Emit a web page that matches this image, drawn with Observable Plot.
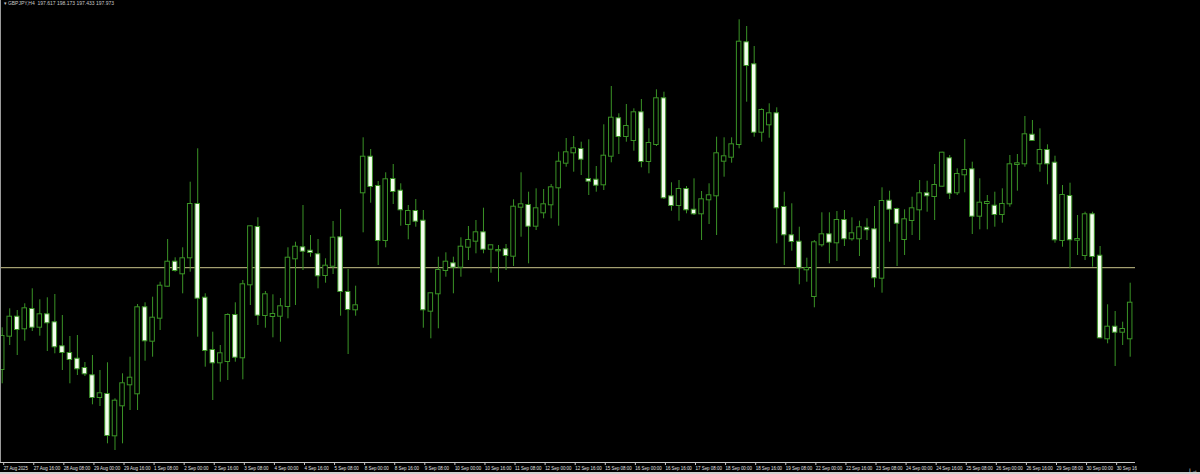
<!DOCTYPE html>
<html>
<head>
<meta charset="utf-8">
<script src="https://cdn.jsdelivr.net/npm/d3@7"></script>
<script src="https://cdn.jsdelivr.net/npm/@observablehq/plot@0.6"></script>
<style>
  html, body { margin: 0; padding: 0; background: #000; }
  #chart svg { display: block; }
</style>
</head>
<body>
<div id="chart"></div>
<script>
// H4 candles, 27 Aug 2025 00:00 .. (index 0..150)
const open = [
197.310,197.643,197.833,197.717,197.910,197.733,197.857,197.777,197.537,197.470,
197.413,197.320,197.247,197.030,197.060,196.647,196.947,197.157,197.067,197.927,
197.593,197.823,198.143,198.383,198.267,198.427,198.960,198.023,197.500,197.377,
197.390,197.850,197.427,198.157,198.730,197.850,197.840,197.843,197.940,198.417,
198.527,198.493,198.457,198.250,198.343,198.627,198.080,197.907,199.077,199.433,
199.140,198.600,199.210,199.093,198.760,198.890,198.793,197.893,198.067,198.300,
198.367,198.333,198.533,198.593,198.677,198.513,198.497,198.507,198.443,198.933,
198.950,198.743,198.877,198.957,199.127,199.373,199.477,199.510,199.210,199.203,
199.157,199.443,199.817,199.640,199.600,199.877,199.390,199.560,200.017,199.037,
198.950,199.110,198.903,198.867,199.007,199.047,199.393,199.433,199.560,200.577,
200.357,199.683,199.757,199.867,198.930,198.647,198.583,198.307,198.040,198.557,
198.657,198.577,198.800,198.617,198.617,198.723,198.707,198.223,198.993,198.910,
198.610,198.800,198.907,199.067,199.040,199.143,199.417,199.077,199.257,199.307,
198.843,198.970,198.943,198.860,198.967,199.360,199.367,199.653,199.367,199.500,
199.373,198.600,199.040,198.603,198.450,198.857,198.443,197.617,197.733,197.683,
197.617];
const high = [
197.727,197.917,197.900,197.967,198.117,198.007,198.027,198.060,197.850,197.640,
197.650,197.380,197.450,197.300,197.377,197.017,197.267,197.433,197.960,197.977,
198.033,198.183,198.610,198.427,198.527,199.183,199.517,198.067,197.683,197.550,
197.867,197.977,198.200,198.743,198.827,198.090,198.057,198.020,198.527,198.583,
198.950,198.650,198.610,198.417,198.790,198.910,198.310,198.143,199.627,199.510,
199.190,199.277,199.360,199.167,198.950,199.010,198.900,198.077,198.433,198.477,
198.433,198.627,198.740,198.800,198.923,198.553,198.550,198.560,199.007,199.277,
199.083,199.117,199.110,199.160,199.483,199.620,199.640,199.583,199.607,199.340,
199.757,200.140,199.867,199.960,199.917,200.010,199.717,200.107,200.083,199.177,
199.200,199.140,199.217,199.090,199.167,199.633,199.627,199.627,200.807,200.740,
200.540,199.917,199.967,199.927,199.083,198.967,198.733,198.423,198.600,198.877,
198.877,198.890,198.900,198.827,198.793,198.817,198.940,199.127,199.093,198.923,
198.907,199.033,199.200,199.193,199.360,199.483,199.450,199.317,199.610,199.383,
199.217,199.050,199.083,199.117,199.450,199.460,199.840,199.800,199.717,199.557,
199.443,199.150,199.173,198.850,198.883,198.883,198.540,197.957,197.890,197.783,
198.173];
const low = [
197.167,197.550,197.450,197.593,197.690,197.643,197.490,197.467,197.300,197.167,
197.250,197.240,196.957,196.940,196.567,196.500,196.567,196.900,196.900,197.393,
197.433,197.700,198.133,198.283,198.067,198.283,197.633,197.333,197.000,197.183,
197.200,197.383,197.207,197.950,197.750,197.723,197.627,197.583,197.817,197.950,
198.300,198.433,198.117,198.173,198.260,197.843,197.460,197.843,198.677,198.973,
198.350,198.527,198.960,198.743,198.607,198.733,197.723,197.617,197.717,198.233,
198.067,198.233,198.400,198.467,198.467,198.273,198.183,198.300,198.340,198.633,
198.367,198.700,198.817,198.817,198.743,199.333,199.283,199.250,199.050,199.083,
199.100,199.377,199.460,199.583,199.493,199.327,199.267,199.540,199.010,198.893,
198.793,198.867,198.850,198.600,198.760,198.650,199.233,199.373,199.517,199.983,
199.633,199.583,199.623,198.567,198.350,198.493,198.157,198.183,197.927,198.533,
198.367,198.390,198.540,198.593,198.440,198.600,198.127,198.073,198.583,198.340,
198.450,198.650,198.600,198.883,198.800,199.133,199.010,199.050,199.077,198.660,
198.707,198.707,198.733,198.773,198.933,199.093,199.333,199.593,199.283,199.157,
198.573,198.533,198.317,198.450,198.400,198.333,197.617,197.567,197.340,197.550,
197.433];
const close = [
197.640,197.833,197.710,197.917,197.733,197.857,197.777,197.537,197.480,197.410,
197.317,197.267,197.030,197.067,196.650,196.993,197.167,197.223,197.927,197.597,
197.823,198.143,198.383,198.300,198.417,198.960,198.023,197.500,197.377,197.467,
197.850,197.433,198.157,198.737,197.853,198.057,197.860,197.937,198.423,198.533,
198.493,198.480,198.247,198.343,198.623,198.090,197.910,197.947,199.433,199.140,
198.600,199.207,199.090,198.907,198.890,198.793,197.907,198.067,198.300,198.383,
198.333,198.533,198.600,198.677,198.513,198.547,198.500,198.450,198.933,198.957,
198.743,198.917,198.957,199.127,199.383,199.477,199.517,199.413,199.193,199.153,
199.443,199.823,199.640,199.740,199.877,199.390,199.570,200.017,199.027,198.950,
199.110,198.907,198.867,199.007,199.047,199.467,199.437,199.557,200.583,200.350,
199.683,199.900,199.867,198.927,198.657,198.590,198.327,198.320,198.577,198.657,
198.583,198.800,198.617,198.667,198.727,198.707,198.227,198.990,198.913,198.773,
198.807,198.917,199.067,199.047,199.150,199.473,199.073,199.260,199.300,198.843,
198.973,198.980,198.860,198.960,199.357,199.367,199.657,199.600,199.500,199.367,
198.607,199.050,198.607,198.610,198.857,198.440,197.627,197.733,197.683,197.710,
197.973];

// horizontal line level
const levelLine = 198.328;

// x-axis: one label every 4 bars (16 hours)
const tickLabels = [
"27 Aug 2025","27 Aug 16:00","28 Aug 08:00","29 Aug 00:00","29 Aug 16:00",
"1 Sep 08:00","2 Sep 00:00","2 Sep 16:00","3 Sep 08:00","4 Sep 00:00",
"4 Sep 16:00","5 Sep 08:00","8 Sep 00:00","8 Sep 16:00","9 Sep 08:00",
"10 Sep 00:00","10 Sep 16:00","11 Sep 08:00","12 Sep 00:00","12 Sep 16:00",
"15 Sep 08:00","16 Sep 00:00","16 Sep 16:00","17 Sep 08:00","18 Sep 00:00",
"18 Sep 16:00","19 Sep 08:00","22 Sep 00:00","22 Sep 16:00","23 Sep 08:00",
"24 Sep 00:00","24 Sep 16:00","25 Sep 08:00","26 Sep 00:00","26 Sep 16:00",
"29 Sep 08:00","30 Sep 00:00","30 Sep 16:00"];
const tickEvery = 4;

const symbol = "GBPJPY,H4";

// ---- build ----
const bars = open.map((o, i) => ({i, o, h: high[i], l: low[i], c: close[i]}));
const ticks = tickLabels.map((_, k) => k * tickEvery);
const last = bars[bars.length - 1];
const header = `\u25BE ${symbol}  ${last.o.toFixed(3)} ${last.h.toFixed(3)} ${last.l.toFixed(3)} ${last.c.toFixed(3)}`;

const green = "#3a9326";
const xDomain = [-0.226, 150.707];
const yDomain = [196.38, 201];

const svg = Plot.plot({
  width: 1200,
  height: 474,
  marginLeft: 0,
  marginRight: 65,
  marginTop: 0,
  marginBottom: 12,
  style: {background: "#000", color: "#ddd", fontFamily: "'Liberation Sans', Arial, sans-serif"},
  x: {type: "linear", domain: xDomain, axis: null},
  y: {type: "linear", domain: yDomain, axis: null},
  marks: [
    Plot.ruleY([levelLine], {stroke: "#cbc68c", strokeWidth: 1}),
    Plot.ruleX(bars, {x: "i", y1: "l", y2: "h", stroke: green, strokeWidth: 1, clip: true}),
    Plot.rect(bars, {
      x1: d => d.i - 0.3, x2: d => d.i + 0.3,
      y1: "o", y2: "c",
      insetTop: -0.5, insetBottom: -0.5,
      fill: d => d.c < d.o ? "#f4fdee" : "#000",
      stroke: green, strokeWidth: 1, clip: true
    }),
    Plot.ruleX([xDomain[0]], {stroke: "#9a9a9a"}),
    Plot.ruleY([yDomain[0]], {stroke: "#c8c8c8"}),
    Plot.axisX(ticks, {
      tickSize: 3, tickPadding: 0.5, stroke: "#c8c8c8",
      tickFormat: d => tickLabels[d / tickEvery],
      textAnchor: "start", dx: 1.5, fill: "#e0e0e0", fontSize: 5.5
    }),
    Plot.text([header], {frameAnchor: "top-left", dx: 3, dy: 0.5, fill: "#c8c8c8", fontSize: 5, textAnchor: "start"})
  ]
});

// compress axis labels to the narrow terminal font width and clip at the chart's right edge
const sel = d3.select(svg);
const defs = sel.append("defs");
defs.append("clipPath").attr("id", "axisclip")
  .append("rect").attr("x", 0).attr("y", 0).attr("width", 1135).attr("height", 474);
sel.selectAll("g[aria-label='x-axis tick label'] text").each(function() {
  const t = d3.select(this);
  const s = t.text();
  t.attr("textLength", (s.length * 2.2).toFixed(1)).attr("lengthAdjust", "spacingAndGlyphs");
});
sel.selectAll("g[aria-label='x-axis tick label'], g[aria-label='x-axis tick']").attr("clip-path", "url(#axisclip)");
// window frame strip at the very bottom
sel.append("rect").attr("x", 0).attr("y", 472).attr("width", 1200).attr("height", 2).attr("fill", "#cfcfcf");

document.getElementById("chart").appendChild(svg);
</script>
</body>
</html>
